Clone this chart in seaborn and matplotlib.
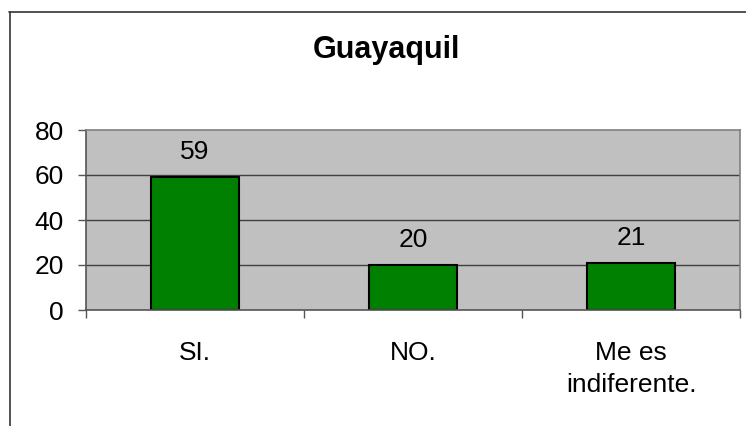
import matplotlib
matplotlib.use("Agg")
import matplotlib.pyplot as plt
import seaborn as sns
import pandas as pd
from matplotlib.lines import Line2D
from matplotlib.ticker import FixedLocator

# =======================
# Data
# =======================
categories = ["SI.", "NO.", "Me es\nindiferente."]
values = [59, 20, 21]
y_ticks = [0, 20, 40, 60, 80]
title = "Guayaquil"

df = pd.DataFrame({"respuesta": categories, "valor": values})

# =======================
# Style
# =======================
sns.set_style("white")
plt.rcParams['font.family'] = ['Liberation Sans', 'DejaVu Sans']
plt.rcParams['text.color'] = 'black'
plt.rcParams['xtick.color'] = 'black'
plt.rcParams['ytick.color'] = 'black'

W, H = 746, 426
FS = 19
fig = plt.figure(figsize=(W / 100, H / 100), dpi=100)
ax = fig.add_axes([86 / W, 1 - 310 / H, 654 / W, 180 / H])

sns.barplot(data=df, x="respuesta", y="valor", color="#008000",
            saturation=1, width=0.4, edgecolor="black", linewidth=1.5, ax=ax)

ax.set_facecolor("#c0c0c0")
ax.set_xlim(-0.5, len(categories) - 0.5)
ax.set_ylim(0, 80)
ax.set_yticks(y_ticks)
ax.set_xlabel("")
ax.set_ylabel("")

# gridlines
for t in y_ticks[1:-1]:
    ax.axhline(t, color="#404040", linewidth=1, zorder=0.5)
ax.set_axisbelow(True)

for side in ["top", "right"]:
    ax.spines[side].set_color("#808080")
    ax.spines[side].set_linewidth(1.2)
for side in ["left", "bottom"]:
    ax.spines[side].set_color("#555555")
    ax.spines[side].set_linewidth(1.2)

# ticks: labels at category centers, tick marks at boundaries
ax.tick_params(axis="x", which="major", length=0, pad=22, labelsize=FS, labelcolor="black")
ax.xaxis.set_minor_locator(FixedLocator([i - 0.5 for i in range(len(categories) + 1)]))
ax.tick_params(axis="x", which="minor", length=6, width=1, color="#555555", direction="out", bottom=True)
ax.tick_params(axis="y", length=6, width=1, color="#555555", direction="out", left=True, pad=10,
               labelsize=FS, labelcolor="black")
for lbl in ax.get_xticklabels():
    lbl.set_linespacing(1.45)

# value labels
for i, v in enumerate(values):
    ax.annotate(str(v), (i, v), xytext=(0, 13), textcoords="offset points",
                ha="center", va="baseline", fontsize=FS, color="black")

# title
fig.text(386 / W, 1 - 50 / H, title, ha="center", va="center",
         fontsize=22, fontweight="bold", color="black")

# outer chart frame
fig.add_artist(Line2D([9 / W, 1], [1 - 12 / H, 1 - 12 / H], color="#333333", linewidth=1.2))
fig.add_artist(Line2D([10 / W, 10 / W], [0, 1 - 12 / H], color="#333333", linewidth=1.2))

fig.savefig("out.png", dpi=100)
plt.close(fig)
